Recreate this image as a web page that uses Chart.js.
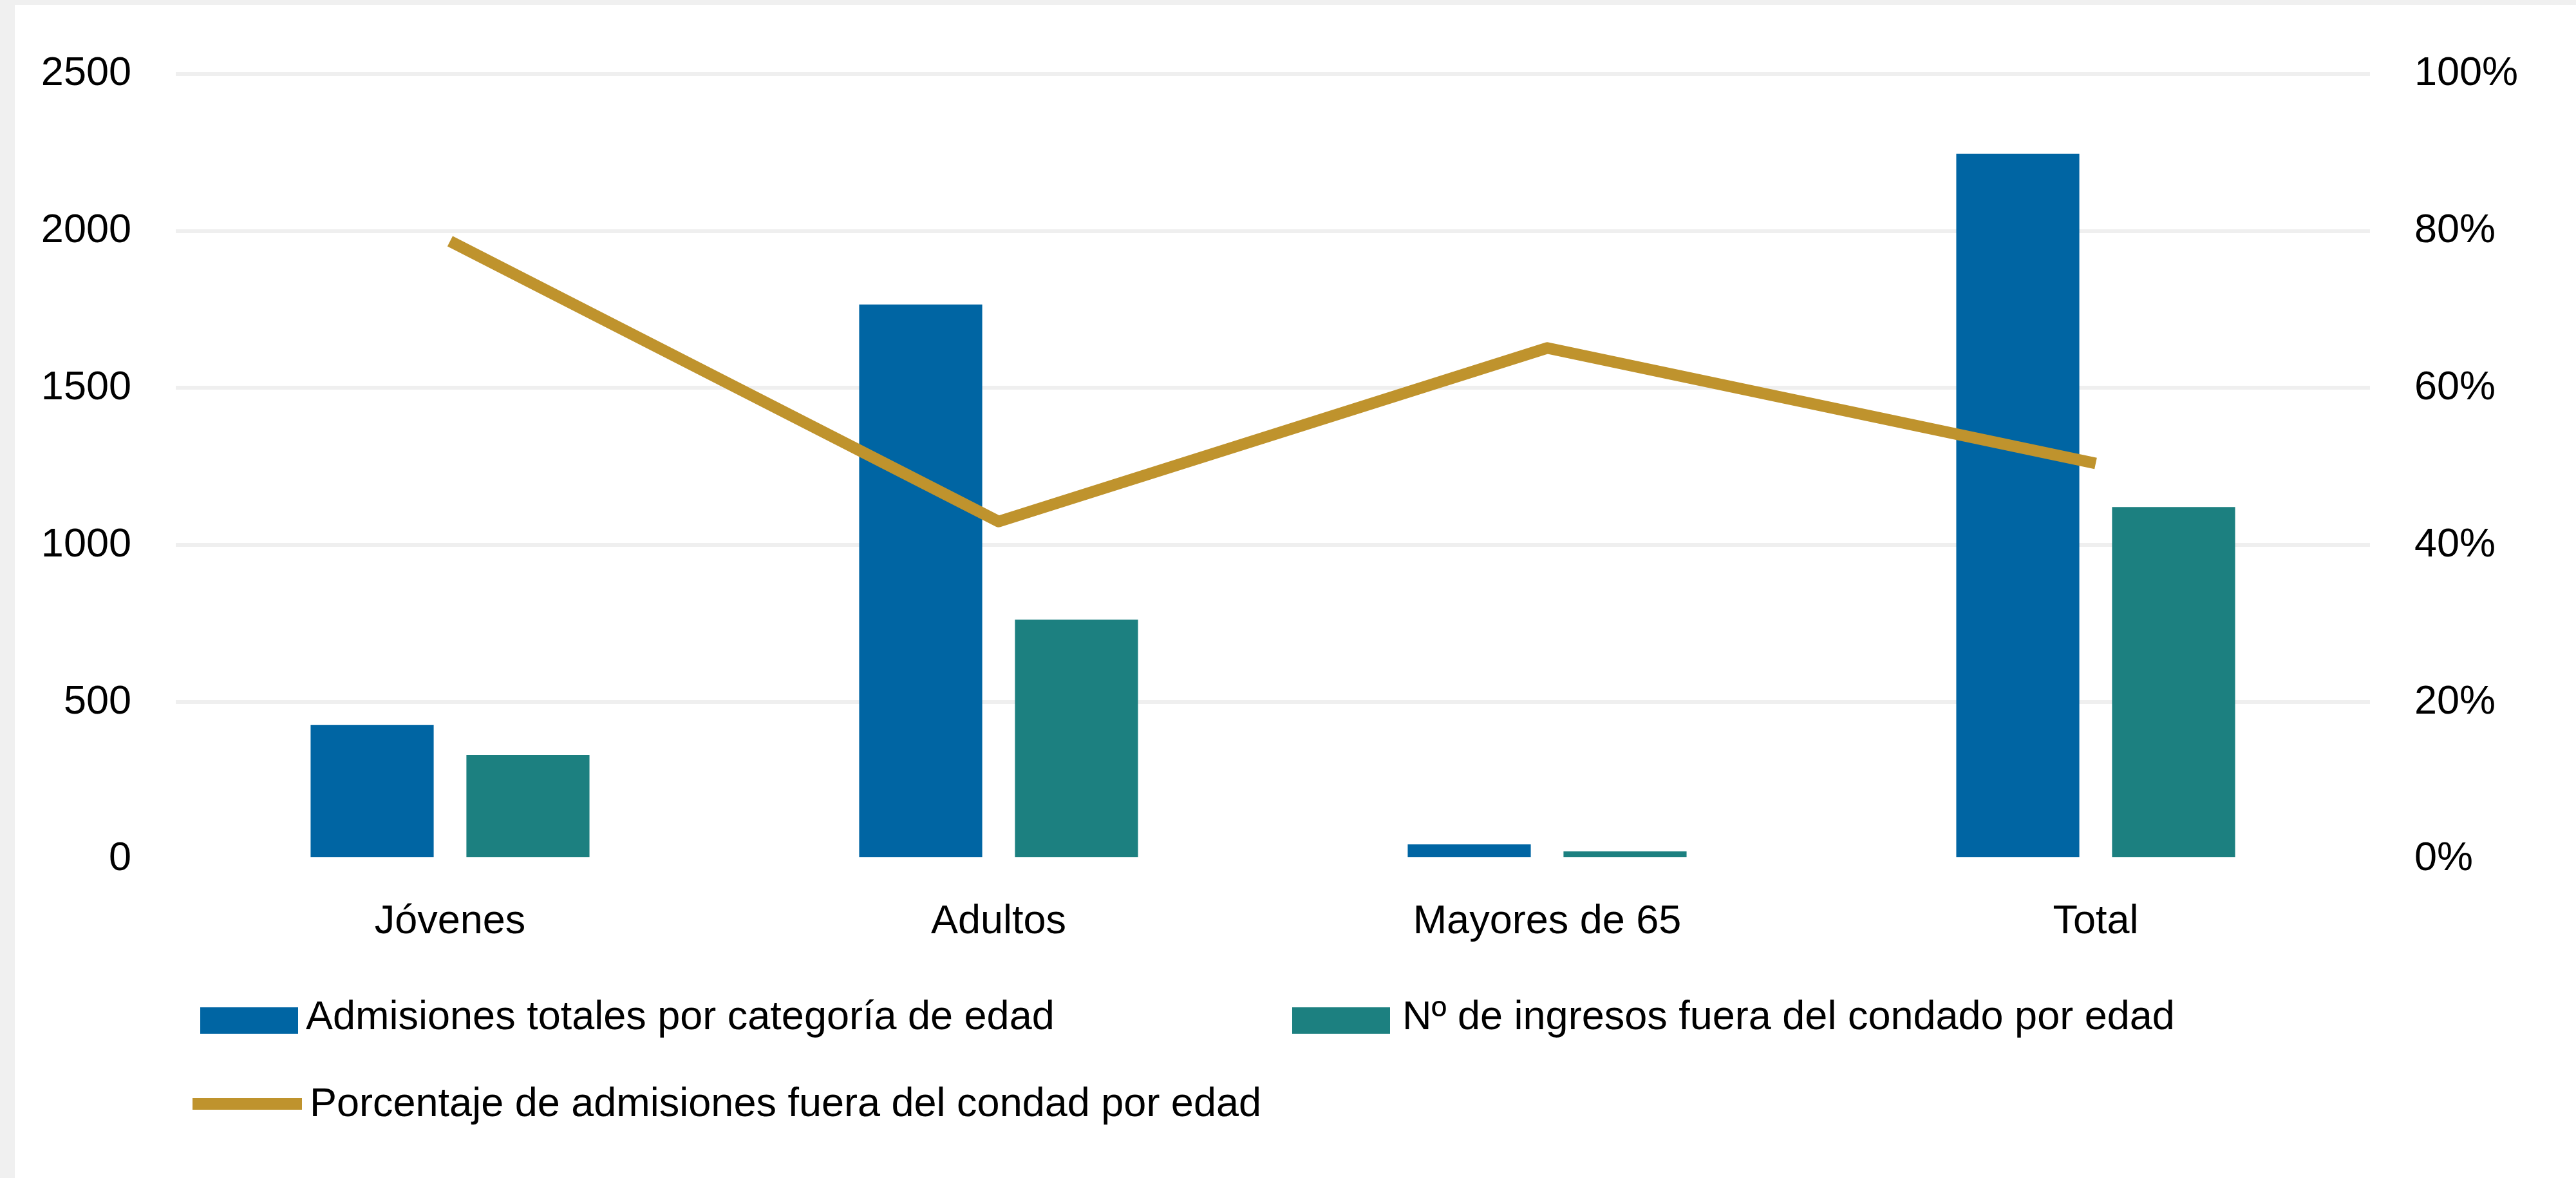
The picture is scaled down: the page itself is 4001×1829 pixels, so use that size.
<!DOCTYPE html>
<html lang="es">
<head>
<meta charset="utf-8">
<title>Admisiones por edad</title>
<script src="https://cdn.jsdelivr.net/npm/chart.js@4.4.1/dist/chart.umd.min.js"></script>
<style>
    html, body {
        margin: 0;
        padding: 0;
        background: #f0f0f0;
        width: 4001px;
        height: 1829px;
        overflow: hidden;
    }
    #box {
        position: absolute;
        left: 23px;
        top: 8px;
        width: 3978px;
        height: 1821px;
        background: #ffffff;
    }
    #myChart {
        position: absolute;
        left: 0;
        top: 0;
    }
    .legend-item {
        position: absolute;
        font-family: "Liberation Sans", Arial, sans-serif;
        font-size: 63px;
        line-height: 63px;
        color: #000;
        white-space: nowrap;
    }
    .legend-mark {
        position: absolute;
    }
</style>
</head>
<body>
<div id="box">
    <canvas id="myChart" width="3978" height="1821"></canvas>
</div>
<div id="legend"></div>
<script>
//Datos
const categorias = ['Jóvenes', 'Adultos', 'Mayores de 65', 'Total'];
const admisionesTotales = [427, 1766, 47, 2246];
const ingresosFuera = [332, 763, 25, 1121];
const porcentajeFuera = [0.787, 0.430, 0.651, 0.504];
const ticksIzquierda = [0, 500, 1000, 1500, 2000, 2500];
const ticksDerecha = [0, 0.2, 0.4, 0.6, 0.8, 1];

const colorAzul = '#0065a3';
const colorVerde = '#1c8080';
const colorOro = '#bf932d';
const colorRejilla = '#efefef';
const fuente = { family: '"Liberation Sans", Arial, sans-serif', size: 63 };

//Posiciones de la leyenda (coordenadas de la pagina)
const legendPos = [
    { markX: 311, markY: 1564, textX: 475, textY: 1545 },
    { markX: 2007, markY: 1564, textX: 2178, textY: 1545 },
    { markX: 299, markY: 1705, textX: 481, textY: 1680 }
];

function generateChart() {
    const ctx = document.getElementById('myChart').getContext('2d');
    const myChart = new Chart(ctx, {
        type: 'bar',
        data: {
            labels: categorias,
            datasets: [{
                type: 'line',
                label: 'Porcentaje de admisiones fuera del condad por edad',
                data: porcentajeFuera,
                borderColor: colorOro,
                backgroundColor: colorOro,
                borderWidth: 18,
                borderJoinStyle: 'round',
                pointRadius: 0,
                tension: 0,
                yAxisID: 'y1',
                order: 0
            }, {
                label: 'Admisiones totales por categoría de edad',
                data: admisionesTotales,
                backgroundColor: colorAzul,
                yAxisID: 'y',
                order: 1
            }, {
                label: 'Nº de ingresos fuera del condado por edad',
                data: ingresosFuera,
                backgroundColor: colorVerde,
                yAxisID: 'y',
                order: 1
            }]
        },
        options: {
            responsive: false,
            animation: false,
            devicePixelRatio: 1,
            categoryPercentage: 0.568,
            barPercentage: 0.79,
            layout: {
                padding: { top: 93, left: 0, right: 0, bottom: 345 }
            },
            plugins: {
                legend: { display: false },
                tooltip: { enabled: false },
                title: { display: false }
            },
            scales: {
                x: {
                    grid: { display: false },
                    border: { display: false },
                    ticks: {
                        font: fuente,
                        color: '#000',
                        padding: 52,
                        maxRotation: 0
                    },
                    afterFit: function (scale) {
                        scale.height = 150;
                    }
                },
                y: {
                    position: 'left',
                    min: ticksIzquierda[0],
                    max: ticksIzquierda[ticksIzquierda.length - 1],
                    afterBuildTicks: function (scale) {
                        scale.ticks = ticksIzquierda.map(v => ({ value: v }));
                    },
                    grid: {
                        color: c => c.tick && c.tick.value === 0 ? 'rgba(0,0,0,0)' : colorRejilla,
                        lineWidth: 6,
                        drawTicks: false
                    },
                    border: { display: false },
                    ticks: {
                        font: fuente,
                        color: '#000',
                        padding: 69,
                        callback: v => String(v)
                    },
                    afterFit: function (scale) {
                        scale.width = 250;
                    }
                },
                y1: {
                    position: 'right',
                    min: 0,
                    max: 1,
                    afterBuildTicks: function (scale) {
                        scale.ticks = ticksDerecha.map(v => ({ value: v }));
                    },
                    grid: { display: false, drawTicks: false },
                    border: { display: false },
                    ticks: {
                        font: fuente,
                        color: '#000',
                        padding: 69,
                        callback: v => Math.round(v * 100) + '%'
                    },
                    afterFit: function (scale) {
                        scale.width = 320;
                    }
                }
            }
        }
    });
    return myChart;
}

//Leyenda en HTML (dos columnas como en Excel)
function generateLegend(chart) {
    const legend = document.getElementById('legend');
    const orden = [1, 2, 0];
    orden.forEach((dsIndex, i) => {
        const ds = chart.data.datasets[dsIndex];
        const pos = legendPos[i];
        const mark = document.createElement('div');
        mark.className = 'legend-mark';
        mark.style.left = pos.markX + 'px';
        mark.style.top = pos.markY + 'px';
        mark.style.background = ds.type === 'line' ? ds.borderColor : ds.backgroundColor;
        if (ds.type === 'line') {
            mark.style.width = '170px';
            mark.style.height = '18px';
        } else {
            mark.style.width = '152px';
            mark.style.height = '41px';
        }
        legend.appendChild(mark);

        const text = document.createElement('div');
        text.className = 'legend-item';
        text.style.left = pos.textX + 'px';
        text.style.top = pos.textY + 'px';
        text.textContent = ds.label;
        legend.appendChild(text);
    });
}

const chart = generateChart();
generateLegend(chart);
</script>
</body>
</html>
